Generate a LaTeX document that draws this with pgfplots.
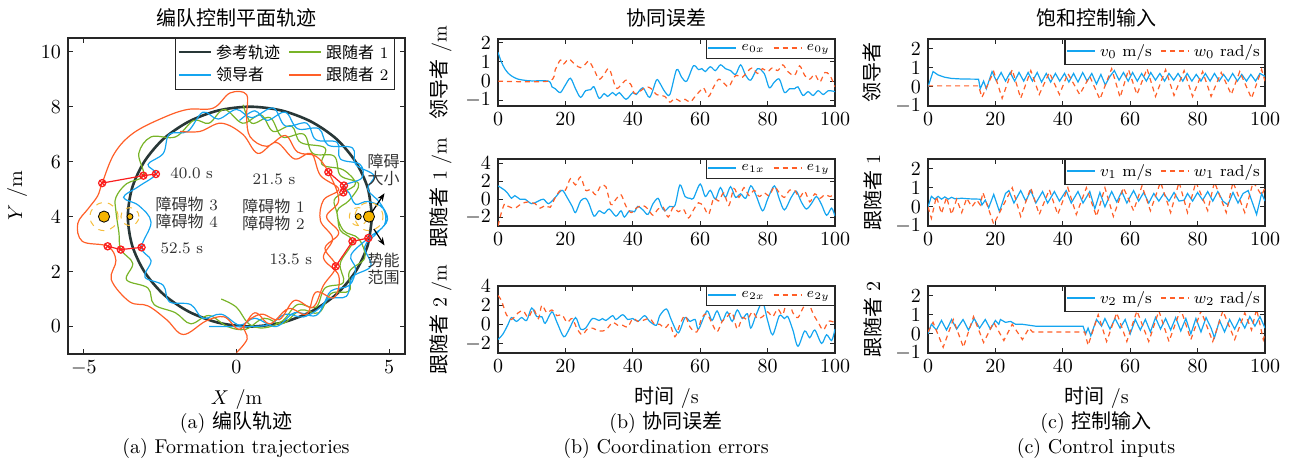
\documentclass[border=0pt]{standalone}
\usepackage{fontspec}
\newfontfamily\cjk{Noto Sans CJK SC}
\usepackage{pgfplots}
\pgfplotsset{compat=1.18}
\usetikzlibrary{arrows.meta,plotmarks}

\definecolor{cblue}{RGB}{20,165,240}
\definecolor{corange}{RGB}{255,95,40}
\definecolor{cgreen}{RGB}{120,180,40}
\definecolor{cref}{RGB}{40,55,55}
\definecolor{cobs}{RGB}{245,180,0}
\definecolor{cring}{RGB}{245,190,60}
\definecolor{cmark}{RGB}{250,30,30}

\tikzset{
  sx/.style={cblue, line width=0.6pt, smooth, tension=0.5},
  sy/.style={corange, line width=0.6pt, dash pattern=on 2.5pt off 2pt, smooth, tension=0.5},
  vx/.style={cblue, line width=0.6pt},
  vy/.style={corange, line width=0.6pt, dash pattern=on 2.5pt off 2pt},
}
\pgfplotsset{
  myaxis/.style={scale only axis, anchor=south west, tick align=inside,
    major tick length=2.5pt, xtick pos=both, ytick pos=both,
    axis line style={line width=0.6pt, black!85},
    every tick/.style={black!85, line width=0.5pt},
    tick label style={font=\fontsize{10}{12}\selectfont},
    label style={font=\fontsize{10}{12}\selectfont}},
  ts/.style={myaxis, width=168.5pt, height=33.5pt, xmin=0, xmax=100,
    xtick={0,20,40,60,80,100}},
  leg/.style={legend columns=2,
    legend style={at={(1,1)}, anchor=north east, font=#1, draw=black!85,
      line width=0.6pt, inner sep=0.6pt, outer sep=0pt, row sep=-1pt,
      /tikz/every even column/.append style={column sep=2pt}},
    legend cell align=left,
    legend image code/.code={\draw[##1, line width=1pt] (0pt,0.4pt) -- (14pt,0.4pt);}},
}

\begin{document}
\begin{tikzpicture}
\useasboundingbox (0,0) rectangle (645.5pt,233pt);

% ---------------- (a) trajectories ----------------
\begin{axis}[myaxis, at={(34pt,56pt)}, width=168.5pt, height=158pt,
  xmin=-5.52, xmax=5.52, ymin=-1, ymax=10.5,
  xtick={-5,0,5}, ytick={0,2,4,6,8,10},
  xlabel={$X$ /m}, ylabel={$Y$ /m},
  legend columns=2,
  legend style={at={(0.97,1)}, anchor=north east, font=\footnotesize,
    draw=black!85, line width=0.6pt, inner sep=1pt, row sep=-1pt,
    /tikz/every even column/.append style={column sep=2pt}},
  legend cell align=left,
  legend image code/.code={\draw[#1] (0pt,0.4pt) -- (16pt,0.4pt);}]
\addlegendimage{cref, line width=1.3pt}
\addlegendentry{{\cjk 参考轨迹}}
\addlegendimage{cgreen, line width=1pt}
\addlegendentry{{\cjk 跟随者} 1}
\addlegendimage{cblue, line width=1pt}
\addlegendentry{{\cjk 领导者}}
\addlegendimage{corange, line width=1pt}
\addlegendentry{{\cjk 跟随者} 2}

% reference circle
\addplot[cref, line width=1.3pt, smooth, forget plot] coordinates {
(4.44,4.00) (4.30,5.04) (3.90,6.00) (3.27,6.83) (2.44,7.46) (1.48,7.86)
(0.44,8.00) (-0.60,7.86) (-1.56,7.46) (-2.39,6.83) (-3.02,6.00) (-3.42,5.04)
(-3.56,4.00) (-3.42,2.96) (-3.02,2.00) (-2.39,1.17) (-1.56,0.54) (-0.60,0.14)
(0.44,0.00) (1.48,0.14) (2.44,0.54) (3.27,1.17) (3.90,2.00) (4.30,2.96) (4.44,4.00)};

% follower 1
\addplot[cgreen, line width=0.6pt, smooth, tension=0.6, forget plot] coordinates {
(-0.50,1.00) (0.00,0.70) (0.40,0.10) (0.90,-0.05) (1.50,0.20) (2.00,0.80)
(2.60,0.70) (2.90,1.40) (3.50,1.60) (3.40,2.30) (3.80,3.10) (3.40,3.50)
(3.30,4.10) (3.20,4.60) (3.50,4.88) (3.90,5.20) (3.50,5.70) (2.80,5.90)
(2.90,6.50) (2.10,6.70) (1.80,7.30) (1.20,7.10) (0.80,7.70) (0.20,7.40)
(-0.40,7.90) (-0.90,7.40) (-1.40,7.50) (-2.00,6.90) (-2.80,6.90) (-3.20,6.30)
(-3.05,5.49) (-3.60,5.20) (-3.95,4.70) (-3.95,4.20) (-3.85,3.40) (-3.79,2.80)
(-3.40,2.30) (-3.60,1.70) (-2.90,1.40) (-2.70,0.80) (-2.00,0.50) (-1.50,0.10)
(-0.90,0.40) (-0.30,0.00) (0.30,-0.10) (0.90,0.30) (1.50,0.10) (2.10,0.60)
(2.70,0.50) (3.10,1.20) (3.70,1.30) (3.70,2.00) (4.20,2.50) (4.00,3.20)
(3.50,3.50) (3.30,4.20) (3.70,4.60) (4.00,5.20) (3.40,5.50) (3.20,6.20)
(2.50,6.30) (2.20,7.00) (1.50,6.90) (1.10,7.60) (0.50,7.40) (0.22,8.07)};

% leader
\addplot[cblue, line width=0.6pt, smooth, tension=0.6, forget plot] coordinates {
(-0.90,0.00) (-0.20,0.00) (0.50,0.00) (1.10,0.08) (1.60,0.45) (2.20,0.35)
(2.80,0.75) (3.10,1.30) (3.70,1.50) (3.90,2.10) (3.75,2.60) (4.32,3.22)
(4.85,3.70) (4.80,4.30) (4.30,4.55) (3.90,4.45) (3.70,4.85) (3.52,5.13)
(4.10,5.40) (4.05,5.90) (3.40,6.10) (3.30,6.70) (2.60,6.80) (2.30,7.40)
(1.60,7.30) (1.20,7.95) (0.50,7.60) (0.00,7.90) (-0.60,7.55) (-1.10,7.80)
(-1.60,7.10) (-2.20,7.00) (-2.40,6.30) (-2.90,5.90) (-2.64,5.55) (-3.20,5.10)
(-3.70,4.70) (-3.20,4.40) (-2.80,3.80) (-3.11,2.88) (-2.80,2.40) (-3.00,1.80)
(-2.40,1.50) (-2.20,0.90) (-1.50,0.80) (-1.10,0.30) (-0.50,0.45) (0.10,0.05)
(0.60,0.30) (1.30,0.00) (1.90,0.50) (2.60,0.40) (3.00,1.00) (3.60,1.10)
(3.80,1.80) (4.40,2.20) (4.20,2.90) (4.60,3.40) (4.95,3.90) (4.70,4.50)
(4.30,5.00) (4.50,5.50) (3.90,5.90) (3.80,6.50) (3.00,6.60) (2.70,7.20)
(2.00,7.20) (1.60,7.80) (1.00,7.50) (0.60,7.85) (0.10,7.50)};

% follower 2
\addplot[corange, line width=0.6pt, smooth, tension=0.6, forget plot] coordinates {
(0.00,-0.95) (0.35,-0.45) (0.25,0.05) (0.80,0.45) (1.40,0.25) (1.90,0.95)
(2.50,0.70) (2.85,1.50) (3.25,2.19) (2.90,2.85) (3.35,3.40) (2.95,4.00)
(3.35,4.60) (3.01,5.62) (2.60,6.20) (2.00,6.35) (1.60,6.95) (0.99,6.56)
(0.45,6.90) (0.33,7.60) (0.33,8.44) (-0.21,8.50) (-0.76,7.95) (-1.60,7.90)
(-2.40,7.60) (-3.38,7.04) (-4.00,6.30) (-4.40,5.22) (-4.55,4.75) (-4.85,4.30)
(-5.20,3.75) (-5.05,3.10) (-4.22,2.92) (-3.95,2.40) (-4.10,1.70) (-3.50,0.90)
(-2.90,0.75) (-2.29,0.25) (-1.74,-0.29) (-1.00,0.20) (-0.40,0.35) (0.10,-0.10)
(0.60,0.50) (1.10,0.10) (1.70,0.65) (2.30,0.45) (2.60,1.25) (3.20,1.05)
(3.35,1.85) (2.85,2.50) (3.15,3.20) (2.75,3.85) (2.85,4.60) (3.35,5.00)
(2.75,5.50) (2.45,6.30) (1.90,6.10) (1.30,6.70) (0.70,6.30) (0.20,7.00)
(-0.50,7.40) (-1.20,7.10) (-1.85,7.10)};

% obstacles and their potential ranges
\addplot[only marks, mark=o, mark size=7pt, mark options={cring, dashed, line width=0.5pt}, forget plot]
  coordinates {(-4.34,4.0) (4.34,4.0)};
\addplot[only marks, mark=o, mark size=4.5pt, mark options={cring, dashed, line width=0.5pt}, forget plot]
  coordinates {(-3.49,4.0) (3.99,4.0)};
\addplot[only marks, mark=*, mark size=2.8pt, mark options={fill=cobs, draw=black, line width=0.4pt}, forget plot]
  coordinates {(-4.34,4.0) (4.34,4.0)};
\addplot[only marks, mark=*, mark size=1.5pt, mark options={fill=cobs, draw=black, line width=0.4pt}, forget plot]
  coordinates {(-3.49,4.0) (3.99,4.0)};

% formation snapshots
\addplot[cmark, line width=0.6pt, mark=otimes, mark size=1.8pt, forget plot]
  coordinates {(-4.40,5.22) (-3.05,5.49) (-2.64,5.55)};
\addplot[cmark, line width=0.6pt, mark=otimes, mark size=1.8pt, forget plot]
  coordinates {(-4.22,2.92) (-3.79,2.80) (-3.11,2.88)};
\addplot[cmark, line width=0.6pt, mark=otimes, mark size=1.8pt, forget plot]
  coordinates {(3.01,5.62) (3.52,5.13) (3.50,4.88)};
\addplot[cmark, line width=0.6pt, mark=otimes, mark size=1.8pt, forget plot]
  coordinates {(3.25,2.19) (3.80,3.10) (4.32,3.22)};

\draw[-{Stealth[length=4pt]}, line width=0.6pt] (axis cs:4.34,4.0) -- (axis cs:4.85,4.85);
\draw[-{Stealth[length=4pt]}, line width=0.6pt] (axis cs:4.50,3.55) -- (axis cs:4.85,2.95);

\node[font=\footnotesize, anchor=west, black!80] at (axis cs:-2.40,5.56) {40.0 s};
\node[font=\footnotesize, anchor=west, black!80] at (axis cs:-2.72,2.86) {52.5 s};
\node[font=\footnotesize, black!80] at (axis cs:1.23,5.35) {21.5 s};
\node[font=\footnotesize, black!80] at (axis cs:1.78,2.46) {13.5 s};
\node[font=\footnotesize, black!80, align=center, inner sep=0pt] at (axis cs:-1.63,4.15)
  {{\cjk 障碍物} 3\\[-1pt]{\cjk 障碍物} 4};
\node[font=\footnotesize, black!80, align=center, inner sep=0pt] at (axis cs:1.21,4.05)
  {{\cjk 障碍物} 1\\[-1pt]{\cjk 障碍物} 2};
\node[font=\footnotesize, black!80, align=center, inner sep=0pt] at (axis cs:4.82,5.70)
  {{\cjk 障碍}\\[-1pt]{\cjk 大小}};
\node[font=\footnotesize, black!80, align=center, inner sep=0pt] at (axis cs:4.82,2.10)
  {{\cjk 势能}\\[-1pt]{\cjk 范围}};
\end{axis}

% ---------------- (b) coordination errors ----------------
\begin{axis}[ts, at={(249pt,180pt)}, ymin=-1.3, ymax=2.2, ytick={-1,0,1,2},
  ylabel={{\cjk 领导者} /m}, leg=\scriptsize]
\addplot[sx] coordinates {
(0,1.5) (1,1.0) (2,0.65) (3,0.42) (4,0.27) (5,0.17) (6,0.1) (8,0.04) (10,0.01)
(15,0) (16,-0.3) (17,-0.4) (18.5,-0.6) (20,-0.2) (21.5,0.15) (23,-0.4) (24.5,-0.85)
(26,-0.5) (27.5,-0.45) (28.5,-0.3) (30,-0.9) (31.5,-0.65) (32.5,-0.8) (34,-0.6)
(35,-0.75) (36,-0.6) (38,-0.95) (40,-0.6) (41,-0.7) (43,-0.35) (45,-0.85) (47,0.05)
(48,-0.1) (49.5,-0.55) (51,-0.7) (53,0.6) (54.5,0.2) (56,0.0) (58,0.8) (59.5,0.6)
(60.5,0.65) (61.5,0.5) (63,0.75) (64.5,0.55) (66,0.85) (67.5,0.65) (69,0.55)
(70.5,0.35) (72,0.85) (73.5,0.3) (75,0.05) (77,0.65) (79,0.4) (80.5,-0.35) (82,-0.05)
(83.5,0.1) (85,-0.6) (86.5,-0.4) (88,-0.4) (89,-0.3) (90.5,-0.75) (92,-0.55)
(93.5,-0.75) (95,-0.5) (96.5,-0.7) (98,-0.5) (100,-0.55)};
\addlegendentry{$e_{0x}$}
\addplot[sy] coordinates {
(0,0) (15,0) (17,0.6) (18.5,1.1) (19.5,0.9) (21,1.15) (23,0.85) (24.5,0.7) (26,0.9)
(27,1.05) (28.5,0.6) (30,0.1) (31.5,0.35) (33,0.65) (35,-0.35) (36.5,-0.2) (38,0.05)
(39.5,-0.2) (40.5,-0.65) (42,-0.55) (44,-0.3) (45.5,-0.4) (47,-0.7) (48,-0.75)
(49.5,-0.8) (51,-1.1) (52.5,-0.9) (54,-1.05) (55.5,-0.95) (57,-1.1) (58.5,-0.8)
(60,-0.5) (61,-0.35) (62.5,-0.8) (64,-0.3) (65.5,0.1) (67,-0.1) (68.5,-0.3) (70,0.2)
(71,0.3) (72.5,0.2) (74,0.5) (75.5,0.7) (77,0.4) (78.5,0.65) (80,0.5) (81.5,0.7)
(83,0.55) (84.5,0.85) (86,0.5) (88,0.3) (89.5,0.8) (91,0.3) (92.5,0.1) (94,0.35)
(95.5,-0.05) (97,0.45) (98.5,0.3) (100,-0.3)};
\addlegendentry{$e_{0y}$}
\end{axis}

\begin{axis}[ts, at={(249pt,120pt)}, ymin=-3, ymax=4.5, ytick={-2,0,2,4},
  ylabel={{\cjk 跟随者} 1 /m}, leg=\scriptsize]
\addplot[sx] coordinates {
(0,1.5) (2,1.0) (3,0.6) (4,0.1) (5,0.4) (6.5,0.0) (8,0.0) (10,-0.5) (12,-0.2)
(13.5,0.0) (15,-0.5) (17,0.2) (19,1.0) (20.5,0.2) (22,-0.8) (23,-1.5) (24.5,-0.2)
(26,0.1) (27,-0.5) (28.5,-1.9) (30,-1.3) (31.5,-1.6) (33,-1.1) (35,-1.9) (36.5,-1.3)
(37.5,-2.0) (39,-1.3) (40.5,-1.4) (41.5,-0.8) (43,-1.2) (44.5,-1.7) (46,-0.5)
(47.5,0.1) (48.5,-0.8) (49.5,-1.3) (51,-0.8) (52.5,-0.7) (54,1.6) (55.5,0.3) (57,0.1)
(58,0.1) (60,1.7) (61.5,0.3) (63,1.0) (64.5,0.0) (66,1.3) (67.5,0.2) (69,1.4)
(70.5,0.2) (72,0.6) (73.5,0.1) (75,1.5) (76.5,0.5) (78.5,-1.3) (80,0.0) (82,1.5)
(83.5,0.0) (85,-1.2) (87,0.2) (88.5,0.9) (90,-0.3) (91.5,-1.1) (93,-0.5) (94.5,0.3)
(96,-0.6) (97.5,-1.8) (99,-1.0) (100,-1.9)};
\addlegendentry{$e_{1x}$}
\addplot[sy] coordinates {
(0,-3.0) (1,-1.5) (2,-0.5) (3,-0.8) (5,-1.0) (7,-0.5) (9,-0.3) (11,-0.5) (12.5,-1.0)
(14,-0.7) (15.5,-0.9) (17,0.2) (18.5,1.0) (20,1.0) (21.5,2.3) (23,1.6) (24.5,2.5)
(26,1.0) (27.5,1.1) (29,0.5) (30.5,1.5) (32,1.4) (33.5,-0.6) (35,0.0) (36.5,0.5)
(38,-0.8) (39.5,-1.5) (41,-1.0) (43,-0.7) (44.5,-1.1) (46,-1.8) (47.5,-1.1) (49,-0.9)
(50.5,-2.0) (52,-0.9) (53.5,-1.4) (55,-1.1) (56.5,-2.1) (58,-1.2) (59.5,-0.4)
(61,-0.8) (62.5,-1.7) (64,0.1) (65.5,-0.2) (67,0.7) (68.5,-0.7) (70,1.2) (71.5,0.2)
(73,1.3) (74.5,0.4) (76,1.0) (77.5,0.3) (79,0.7) (80.5,0.4) (82,1.4) (83.5,0.7)
(85,0.2) (86.5,1.0) (88,1.0) (89.5,0.2) (91,0.9) (92.5,-0.3) (94,0.6) (95.5,0.1)
(97,0.5) (98.5,0.3) (100,0.6)};
\addlegendentry{$e_{1y}$}
\end{axis}

\begin{axis}[ts, at={(249pt,56.5pt)}, ymin=-3, ymax=4, ytick={-2,0,2,4},
  ylabel={{\cjk 跟随者} 2 /m}, xlabel={{\cjk 时间} /s}, leg=\scriptsize]
\addplot[sx] coordinates {
(0,-1.6) (1.5,-1.0) (3,0.0) (4,0.7) (5.5,0.3) (7,0.7) (8.5,0.4) (10,1.7) (11.5,0.8)
(13,0.8) (14,0.1) (16,1.3) (17.5,0.2) (19.5,-1.3) (21,-0.6) (23,0.7) (24.5,-0.5)
(26,-0.4) (28,0.6) (30,0.4) (31,0.6) (32,0.4) (34,0.9) (35,0.5) (37,1.0) (38.5,0.5)
(40,0.6) (41.5,0.3) (43.5,0.9) (45,0.3) (47,-0.1) (48,0.9) (50,1.6) (51.5,0.4)
(53.5,-0.9) (55.5,0.7) (57,0.3) (58.5,0.5) (59.5,-0.5) (62,1.4) (63.5,0.4) (65,1.4)
(66.5,0.3) (68,1.3) (69.5,0.3) (71,1.5) (72.5,0.6) (74,1.1) (75,-0.4) (76.5,0.9)
(78.5,2.3) (80,0.4) (81.5,-1.1) (83.5,0.9) (85,0.6) (86,0.8) (87.5,-0.6) (89,-2.3)
(91,-0.7) (92.5,-1.4) (94,-0.6) (96,-2.0) (97.5,-1.1) (99,-1.7) (100,-0.5)};
\addlegendentry{$e_{2x}$}
\addplot[sy] coordinates {
(0,3.0) (1,2.5) (2.5,1.0) (4,0.5) (6,1.2) (7.5,1.4) (9,0.7) (10.5,1.6) (12,0.6)
(13,2.0) (14.5,1.2) (16,1.5) (17.5,0.9) (19,1.0) (20.5,0.2) (22,0.6) (23.5,-0.5)
(25,-1.1) (26.5,-0.5) (28,-0.4) (30,-0.7) (32,-0.6) (34,0.2) (35.5,-0.1) (37,-0.1)
(38.5,-0.3) (40,0.6) (41.5,0.3) (43,0.4) (45,0.6) (46.5,0.0) (48,0.0) (49.5,-0.4)
(51,0.0) (52.5,-1.3) (54,0.0) (55.5,0.9) (57,-0.3) (59,-0.8) (60.5,0.7) (62,1.1)
(63.5,0.1) (65,-0.8) (66.5,0.3) (68,0.8) (69.5,1.2) (71,-0.5) (72.5,0.7) (74,0.5)
(75.5,1.3) (77,0.6) (78.5,0.8) (80,1.3) (81.5,0.8) (83,1.6) (84.5,1.0) (86,2.7)
(87.5,1.2) (89,0.7) (90.5,1.7) (92,2.3) (93.5,1.1) (95,0.2) (96.5,-0.6) (98,0.3)
(99,0.3) (100,0.2)};
\addlegendentry{$e_{2y}$}
\end{axis}

% ---------------- (c) control inputs ----------------
\begin{axis}[ts, at={(464pt,180pt)}, ymin=-1, ymax=2.5, ytick={-1,0,1,2},
  ylabel={{\cjk 领导者}}, leg=\footnotesize]
\addplot[vx] coordinates {
(0,0) (1.5,0.8) (3,0.62) (5,0.5) (7,0.44) (10,0.41) (15,0.4) (15.5,-0.1) (16.5,0.3)
(17.3,-0.1) (19,0.8) (20.3,0.3) (21.7,0.75) (23,0.3) (24.4,0.75) (25.7,0.3) (27,0.75)
(28.4,0.3) (29.7,0.75) (31,0.3) (32.4,0.75) (33.7,0.25) (35.1,0.7) (36.4,0.25)
(37.8,0.7) (39.1,0.3) (40.5,0.7) (41.8,0.25) (43.2,0.7) (44.5,0.25) (45.9,0.75)
(47.2,0.3) (48.6,0.7) (50,0.15) (51.3,0.65) (52.6,0.1) (54,0.55) (55.3,0.85)
(56.7,0.35) (58,0.75) (59.4,0.3) (60.7,0.75) (62.1,0.3) (63.4,0.7) (64.8,0.3)
(66.1,0.75) (67.5,0.35) (68.8,0.7) (70.2,0.3) (71.5,0.7) (72.9,0.35) (74.2,0.7)
(75.6,0.3) (76.9,0.7) (78.3,0.3) (79.6,0.65) (81,0.3) (82.3,0.7) (83.7,0.3) (85,0.7)
(86.4,0.3) (87.7,0.65) (89.1,0.3) (90.4,0.7) (91.8,0.3) (93.1,0.65) (94.5,0.3)
(95.8,0.65) (97.2,0.3) (98.5,0.7) (100,0.55)};
\addlegendentry{$v_0$ m/s}
\addplot[vy] coordinates {
(0,0.05) (15,0.05) (16,-0.55) (19.5,0.8) (22,-0.6) (25,0.9) (27.5,-0.6) (30.5,0.85)
(33,-0.4) (36,0.75) (39,-0.4) (41.5,0.7) (45,-0.4) (48,0.55) (51,-0.65) (54.5,0.95)
(57,-0.55) (59.5,0.9) (62,-0.4) (65,0.95) (67.5,-0.5) (70.5,0.9) (73,-0.45) (76,0.85)
(78.5,-0.5) (81.5,0.8) (84,-0.5) (87,0.75) (90,-0.4) (92.5,0.8) (96,-0.6) (99,0.9)
(100,0.3)};
\addlegendentry{$w_0$ rad/s}
\end{axis}

\begin{axis}[ts, at={(464pt,120pt)}, ymin=-1, ymax=2.5, ytick={-1,0,1,2},
  ylabel={{\cjk 跟随者} 1}, leg=\footnotesize]
\addplot[vx] coordinates {
(0,0) (1,0.55) (2,0.4) (3,0.55) (4,0.4) (5,0.52) (6,0.4) (7,0.5) (8,0.42) (10,0.45)
(12,0.42) (15.5,0.4) (16,0.1) (17,0.35) (18,-0.05) (19.5,0.65) (21.2,-0.25) (23,0.7)
(24,0.85) (25.5,0.2) (27.5,0.85) (29,0.3) (30.5,0.85) (32,0.2) (34,0.8) (35.5,0.2)
(37.5,0.8) (39,0.3) (41,0.85) (42.5,0.2) (44.5,0.8) (46,0.2) (48,0.8) (49.5,-0.1)
(51,0.75) (52.5,0.0) (54.5,0.8) (56,0.25) (57.5,0.8) (59,0.2) (61,0.85) (62.5,0.3)
(64,0.75) (65.5,0.2) (67,0.7) (68.5,0.3) (70,0.7) (71.5,0.3) (73,0.75) (74.5,0.3)
(76,0.35) (77,0.7) (78.5,0.3) (80,0.75) (81.5,0.35) (83,0.8) (84.5,0.3) (86,0.8)
(87.5,0.3) (89,0.1) (90.5,0.75) (92,0.2) (93.5,0.7) (95,0.85) (97.5,-0.4) (99,0.7)
(100,0.3)};
\addlegendentry{$v_1$ m/s}
\addplot[vy] coordinates {
(0,0) (1,-0.6) (2.5,0.55) (4,-0.35) (5.5,0.5) (7,-0.4) (8.5,0.4) (10,-0.3) (11.5,0.45)
(13,0.0) (14.5,0.35) (15.5,0.1) (16.3,0.75) (19.5,-0.9) (25,1.0) (27.5,-0.5) (30.5,1.0)
(33,-0.4) (36,0.9) (38.5,-0.4) (41.5,1.0) (44,-0.4) (47,1.0) (50,-0.5) (52.5,1.0)
(55,-0.5) (58,1.0) (61,-0.2) (63.5,1.1) (66,-0.2) (69,1.3) (72,-0.3) (74.5,1.3)
(77,-0.3) (79.5,1.3) (83,-0.2) (85,1.3) (88.5,-0.3) (90.5,1.3) (94,-0.3) (96.5,1.3)
(99,0.6) (100,1.0)};
\addlegendentry{$w_1$ rad/s}
\end{axis}

\begin{axis}[ts, at={(464pt,56.5pt)}, ymin=-1, ymax=2.5, ytick={-1,0,1,2},
  ylabel={{\cjk 跟随者} 2}, xlabel={{\cjk 时间} /s}, leg=\footnotesize]
\addplot[vx] coordinates {
(0,0) (1,0.5) (2.5,0.2) (4,0.7) (5.5,0.2) (7,0.75) (8.5,0.25) (10.4,0.75) (12,0.2)
(13.7,0.8) (15.3,0.3) (17,0.75) (18.5,0.25) (20,0.7) (21,0.5) (21.5,0.75) (23,0.6)
(24.5,0.65) (26,0.5) (28,0.5) (30,0.45) (32,0.4) (46,0.4) (46.8,0.0) (47.5,0.3)
(48.3,-0.1) (50,0.75) (51.5,0.4) (52.5,0.8) (54,0.25) (55.5,0.8) (57,0.3) (58.5,0.75)
(60,0.0) (61.5,0.75) (63,0.2) (64.5,0.75) (66,0.1) (67.5,0.85) (69,0.25) (70.5,0.8)
(72,0.2) (73.5,0.85) (75,0.15) (76.5,0.8) (78,0.0) (79.5,0.8) (81,0.1) (82.5,0.85)
(84,0.3) (85,-0.2) (86.5,0.7) (88,0.1) (89.5,0.75) (91,0.25) (92.5,0.8) (94,0.3)
(95.5,0.9) (97,0.4) (98.5,0.9) (100,0.3)};
\addlegendentry{$v_2$ m/s}
\addplot[vy] coordinates {
(0,0.1) (1.5,0.6) (4.5,-0.7) (7.5,0.75) (10.5,-0.7) (13.5,0.9) (16.5,-0.45) (19.5,0.6)
(22.5,-0.35) (25,0.5) (28,-0.3) (30,0.3) (31,0.1) (46.5,0.1) (47.5,-0.6) (50.5,1.0)
(53,-0.4) (56,1.1) (59,-0.4) (62,1.2) (65.5,-0.4) (68.5,1.2) (71.5,-0.4) (75,1.3)
(78,-0.3) (81,1.2) (84.5,-0.4) (87.5,1.2) (91,-0.3) (94,1.1) (96,0.2) (97.5,1.3)
(99.5,-0.3) (100,0.0)};
\addlegendentry{$w_2$ rad/s}
\end{axis}

% titles and captions
\node[font=\fontsize{10}{12}\selectfont] at (118pt,224pt) {\cjk 编队控制平面轨迹};
\node[font=\fontsize{10}{12}\selectfont] at (333pt,224pt) {\cjk 协同误差};
\node[font=\fontsize{10}{12}\selectfont] at (548pt,224pt) {\cjk 饱和控制输入};
\node[font=\fontsize{10}{12}\selectfont] at (118pt,21.5pt) {(a) {\cjk 编队轨迹}};
\node[font=\fontsize{10}{12}\selectfont] at (118pt,8.5pt) {(a) Formation trajectories};
\node[font=\fontsize{10}{12}\selectfont] at (333pt,21.5pt) {(b) {\cjk 协同误差}};
\node[font=\fontsize{10}{12}\selectfont] at (333pt,8.5pt) {(b) Coordination errors};
\node[font=\fontsize{10}{12}\selectfont] at (548pt,21.5pt) {(c) {\cjk 控制输入}};
\node[font=\fontsize{10}{12}\selectfont] at (548pt,8.5pt) {(c) Control inputs};
\end{tikzpicture}
\end{document}
